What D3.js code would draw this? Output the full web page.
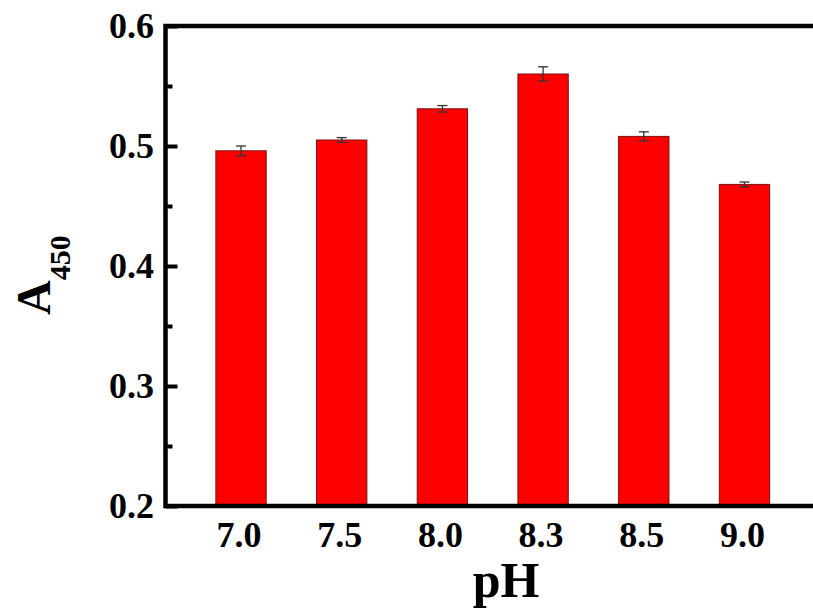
<!DOCTYPE html>
<html>
<head>
<meta charset="utf-8">
<script src="https://cdn.jsdelivr.net/npm/d3@7"></script>
<style>
  html, body { margin: 0; padding: 0; background: #fff; }
  svg { display: block; }
  text { font-family: "Liberation Serif", "Times New Roman", serif; font-weight: bold; fill: #000; }
</style>
</head>
<body>
<script>
const categories = ["7.0", "7.5", "8.0", "8.3", "8.5", "9.0"];
const values = [0.496, 0.505, 0.531, 0.560, 0.508, 0.468];
const errors = [0.004, 0.002, 0.0027, 0.006, 0.0038, 0.002];
const yTicks = [0.2, 0.3, 0.4, 0.5, 0.6];
const yMinorTicks = [0.25, 0.35, 0.45, 0.55];

const W = 813, H = 614;
const plotLeft = 165.5, plotRight = 820, plotTop = 26, plotBottom = 506;

const svg = d3.select("body").append("svg").attr("width", W).attr("height", H);

const x = d3.scaleBand().domain(categories).range([plotLeft, plotRight]).paddingInner(0.5).paddingOuter(0.5);
const y = d3.scaleLinear().domain([0.2, 0.6]).range([plotBottom, plotTop]);

// bars
svg.append("g").selectAll("rect").data(values).join("rect")
  .attr("x", (d, i) => x(categories[i]))
  .attr("y", d => y(d))
  .attr("width", x.bandwidth())
  .attr("height", d => y(0.2) - y(d))
  .attr("fill", "#ff0000")
  .attr("stroke", "#7a1010")
  .attr("stroke-width", 1);

// error bars
const eg = svg.append("g").attr("stroke", "#333").attr("stroke-width", 1.3);
values.forEach((v, i) => {
  const cx = x(categories[i]) + x.bandwidth() / 2;
  const e = errors[i];
  eg.append("line").attr("x1", cx).attr("x2", cx).attr("y1", y(v + e)).attr("y2", y(v - e));
  eg.append("line").attr("x1", cx - 5).attr("x2", cx + 5).attr("y1", y(v + e)).attr("y2", y(v + e));
  eg.append("line").attr("x1", cx - 5).attr("x2", cx + 5).attr("y1", y(v - e)).attr("y2", y(v - e));
});

// left axis (inward ticks)
const yAxis = d3.axisRight(y).tickValues(yTicks).tickSize(12).tickFormat("");
const ya = svg.append("g").attr("transform", `translate(${plotLeft},0)`).call(yAxis);
ya.select(".domain").remove();
ya.selectAll(".tick line").attr("stroke", "#000").attr("stroke-width", 4);
const yAxisMinor = d3.axisRight(y).tickValues(yMinorTicks).tickSize(7).tickFormat("");
const ym = svg.append("g").attr("transform", `translate(${plotLeft},0)`).call(yAxisMinor);
ym.select(".domain").remove();
ym.selectAll(".tick line").attr("stroke", "#000").attr("stroke-width", 4);

// frame
svg.append("path")
  .attr("d", `M${plotRight},${plotTop}H${plotLeft}V${plotBottom}H${plotRight}`)
  .attr("stroke", "#000").attr("stroke-width", 4.5).attr("fill", "none")
  .attr("stroke-linecap", "square");

// y tick labels
svg.append("g").selectAll("text").data(yTicks).join("text")
  .attr("x", 154)
  .attr("y", d => y(d))
  .attr("dy", "0.34em")
  .attr("text-anchor", "end")
  .attr("font-size", 36)
  .text(d => d3.format(".1f")(d));

// x tick labels
svg.append("g").selectAll("text").data(categories).join("text")
  .attr("x", d => x(d) + x.bandwidth() / 2 - 2)
  .attr("y", 547)
  .attr("text-anchor", "middle")
  .attr("font-size", 36)
  .text(d => d);

// x axis title
svg.append("text")
  .attr("x", 506)
  .attr("y", 597)
  .attr("text-anchor", "middle")
  .attr("font-size", 50)
  .text("pH");

// y axis title
const yt = svg.append("text")
  .attr("transform", "translate(50,315) rotate(-90)")
  .attr("text-anchor", "start");
yt.append("tspan").attr("font-size", 48).text("A");
yt.append("tspan").attr("font-size", 30).attr("dy", 20).text("450");
</script>
</body>
</html>
